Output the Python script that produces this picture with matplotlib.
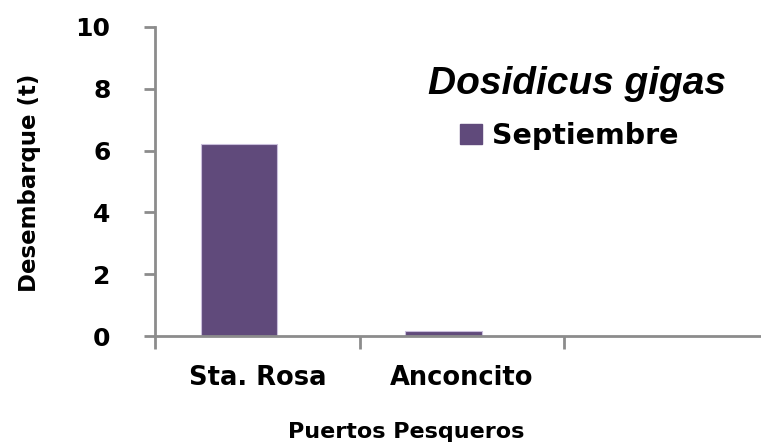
import numpy as np
import matplotlib.pyplot as plt
from matplotlib.patches import Patch

puertos = ["Sta. Rosa", "Anconcito", ""]
septiembre = [6.2, 0.15, 0.0]
y_ticks = [0, 2, 4, 6, 8, 10]

bar_color = "#604a7b"
axis_color = "#8c8c8c"

fig = plt.figure(figsize=(7.61, 4.46), dpi=100)
ax = fig.add_axes([155 / 761, 1 - 336 / 446, 1 - 155 / 761, (336 - 27) / 446])

x = np.arange(len(puertos))
ax.bar(x[:2] - 0.09, septiembre[:2], width=0.375, color=bar_color,
       edgecolor="#c9bedb", linewidth=0.8, label="Septiembre", zorder=2)

ax.set_xlim(-0.5, 2.46)
ax.set_ylim(0, 10)
ax.set_yticks(y_ticks)
ax.set_yticklabels([str(v) for v in y_ticks], fontsize=18, fontweight="bold",
                   family="DejaVu Sans")
ax.set_xticks([-0.5, 0.5, 1.5])
ax.set_xticklabels([])
ax.tick_params(axis="y", length=8, width=2, color=axis_color, pad=24)
ax.tick_params(axis="x", length=9, width=2, color=axis_color)

for i, name in enumerate(puertos[:2]):
    ax.text(i, -0.95, name, ha="center", va="top", fontsize=18.5,
            fontweight="bold", family="DejaVu Sans")

for s in ["top", "right"]:
    ax.spines[s].set_visible(False)
for s in ["left", "bottom"]:
    ax.spines[s].set_color(axis_color)
    ax.spines[s].set_linewidth(2)

fig.text(30 / 761, 1 - 183 / 446, "Desembarque (t)", rotation=90,
         ha="center", va="center", fontsize=16.5, fontweight="bold",
         family="DejaVu Sans")
fig.text(406 / 761, 1 - 432 / 446, "Puertos Pesqueros", ha="center", va="center",
         fontsize=16, fontweight="bold", family="DejaVu Sans")
fig.text(577 / 761, 1 - 84 / 446, "Dosidicus gigas", ha="center", va="center",
         fontsize=28, fontweight="bold", style="italic", family="Liberation Sans")

handle = Patch(facecolor=bar_color, edgecolor=bar_color)
fig.legend([handle], ["Septiembre"], loc="center left",
           bbox_to_anchor=(434 / 761, 1 - 136 / 446), frameon=False,
           prop={"size": 20.5, "weight": "bold", "family": "DejaVu Sans"},
           handlelength=0.8, handleheight=0.65, handletextpad=0.35)

fig.savefig("out.png", dpi=100)
